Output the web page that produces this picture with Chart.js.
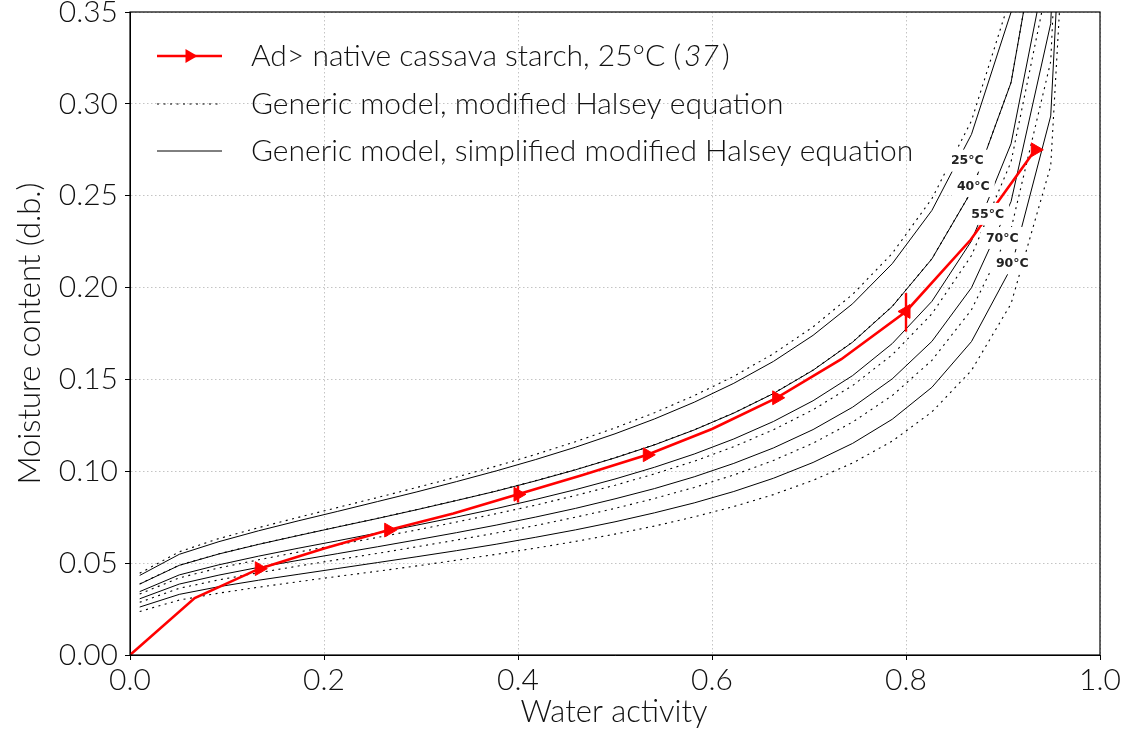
<!DOCTYPE html>
<html>
<head>
<meta charset="utf-8">
<script src="https://cdn.jsdelivr.net/npm/chart.js@4.4.1/dist/chart.umd.min.js"></script>
<style>
html,body{margin:0;padding:0;background:#fff;}
canvas{display:block;}
</style>
</head>
<body>
<canvas id="c" width="1128" height="733"></canvas>
<script>
// ---------------- data ----------------
const waterActivity = [0.01, 0.0508, 0.0917, 0.1325, 0.1733, 0.2142, 0.255, 0.2958, 0.3367, 0.3775, 0.4183, 0.4592, 0.5, 0.5408, 0.5817, 0.6225, 0.6633, 0.7042, 0.745, 0.7858, 0.8267, 0.8675, 0.9083, 0.9492, 0.99];

const halsey25     = [0.0445,0.0562,0.0634,0.0693,0.0749,0.0803,0.0857,0.0912,0.0969,0.1028,0.1092,0.1161,0.1236,0.1319,0.1412,0.1517,0.1640,0.1786,0.1963,0.2186,0.2484,0.2908,0.3591,0.5000,1.216];
const simplified25 = [0.0433,0.0548,0.0617,0.0676,0.0730,0.0782,0.0835,0.0888,0.0944,0.1002,0.1064,0.1131,0.1204,0.1285,0.1376,0.1479,0.1598,0.1740,0.1912,0.2130,0.2420,0.2834,0.3499,0.4872,1.185];
const halsey40     = [0.0387,0.0489,0.0551,0.0603,0.0651,0.0698,0.0744,0.0792,0.0842,0.0893,0.0949,0.1009,0.1074,0.1145,0.1226,0.1318,0.1424,0.1551,0.1704,0.1898,0.2157,0.2525,0.3117,0.4340,1.056];
const simplified40 = [0.0386,0.0488,0.0550,0.0602,0.0650,0.0697,0.0743,0.0791,0.0841,0.0892,0.0948,0.1008,0.1073,0.1144,0.1225,0.1317,0.1423,0.1550,0.1703,0.1897,0.2156,0.2524,0.3116,0.4339,1.055];
const halsey55     = [0.0332,0.0420,0.0474,0.0518,0.0560,0.0600,0.0640,0.0681,0.0724,0.0769,0.0816,0.0868,0.0924,0.0986,0.1055,0.1134,0.1226,0.1335,0.1467,0.1634,0.1857,0.2174,0.2684,0.3738,0.909];
const simplified55 = [0.0345,0.0436,0.0491,0.0538,0.0581,0.0622,0.0664,0.0707,0.0751,0.0797,0.0847,0.0900,0.0958,0.1022,0.1094,0.1176,0.1271,0.1384,0.1521,0.1695,0.1925,0.2254,0.2783,0.3876,0.942];
const halsey70     = [0.0287,0.0363,0.0409,0.0448,0.0484,0.0519,0.0553,0.0589,0.0626,0.0664,0.0705,0.0750,0.0798,0.0852,0.0912,0.0980,0.1059,0.1153,0.1268,0.1412,0.1604,0.1879,0.2319,0.3230,0.785];
const simplified70 = [0.0306,0.0386,0.0435,0.0477,0.0515,0.0552,0.0589,0.0627,0.0666,0.0707,0.0751,0.0798,0.0850,0.0906,0.0970,0.1043,0.1127,0.1227,0.1349,0.1503,0.1707,0.1999,0.2468,0.3437,0.836];
const halsey90     = [0.0237,0.0299,0.0337,0.0369,0.0399,0.0428,0.0456,0.0485,0.0516,0.0548,0.0582,0.0618,0.0658,0.0702,0.0752,0.0808,0.0873,0.0951,0.1045,0.1164,0.1323,0.1549,0.1912,0.2662,0.647];
const simplified90 = [0.0261,0.0330,0.0372,0.0407,0.0439,0.0471,0.0503,0.0535,0.0568,0.0603,0.0641,0.0681,0.0725,0.0774,0.0828,0.0890,0.0962,0.1048,0.1152,0.1283,0.1457,0.1706,0.2107,0.2934,0.713];

const cassavaAw       = [0, 0.0667, 0.1333, 0.2, 0.2667, 0.3333, 0.4, 0.4667, 0.5333, 0.6, 0.6667, 0.7333, 0.8, 0.8667, 0.9333];
const cassavaMoisture = [0, 0.031, 0.047, 0.058, 0.068, 0.077, 0.0875, 0.098, 0.109, 0.123, 0.14, 0.161, 0.187, 0.226, 0.275];
const cassavaMarked   = [false, false, true, false, true, false, true, false, true, false, true, false, true, false, true];
const cassavaMarkerDir = [0, 0, 90, 0, 90, 0, 90, 0, 90, 0, 90, 0, 270, 0, 90];

const errorAw   = [0.4, 0.8];
const errorLow  = [0.083, 0.176];
const errorHigh = [0.092, 0.197];

const temperatureLabels = ['25°C', '40°C', '55°C', '70°C', '90°C'];
const labelAw       = [0.8632, 0.8694, 0.8842, 0.8993, 0.9096];
const labelMoisture = [0.2691, 0.2553, 0.2401, 0.2270, 0.2132];

const legendTexts = ['Ad> native cassava starch, 25°C (', 'Generic model, modified Halsey equation', 'Generic model, simplified modified Halsey equation'];
const xTitle = 'Water activity';
const yTitle = 'Moisture content (d.b.)';

// ---------------- build ----------------
const FONT = 'Lato';
const pts = (xs, ys) => xs.map((v, i) => ({x: v, y: ys[i]}));
const dotted = [2, 4.5];

const modelPairs = [
  [halsey25, simplified25], [halsey40, simplified40], [halsey55, simplified55],
  [halsey70, simplified70], [halsey90, simplified90]
];
const datasets = [];
modelPairs.forEach(([h, s]) => {
  datasets.push({data: pts(waterActivity, h), borderColor: '#000', borderWidth: 1.1, borderDash: dotted, pointRadius: 0, order: 3, tension: 0});
  datasets.push({data: pts(waterActivity, s), borderColor: '#000', borderWidth: 1.0, pointRadius: 0, order: 2, tension: 0});
});
errorAw.forEach((a, i) => {
  datasets.push({data: [{x: a, y: errorLow[i]}, {x: a, y: errorHigh[i]}], borderColor: '#ff0000', borderWidth: 2.4, pointRadius: 0, order: 1});
});
datasets.push({
  data: pts(cassavaAw, cassavaMoisture),
  borderColor: '#ff0000', borderWidth: 2.6, tension: 0, order: 0,
  pointStyle: 'triangle',
  pointRadius: cassavaMarked.map(m => m ? 8 : 0),
  pointRotation: cassavaMarkerDir,
  pointBackgroundColor: '#ff0000', pointBorderColor: '#ff0000', pointBorderWidth: 1
});

const decor = {
  id: 'decor',
  afterDatasetsDraw(chart) {
    const {ctx, chartArea: a, scales: {x, y}} = chart;
    ctx.save();
    // temperature labels (inline, white background)
    ctx.font = 'bold 12.5px "DejaVu Sans"';
    ctx.textAlign = 'center';
    ctx.textBaseline = 'middle';
    temperatureLabels.forEach((t, i) => {
      const px = x.getPixelForValue(labelAw[i]);
      const py = y.getPixelForValue(labelMoisture[i]);
      const w = ctx.measureText(t).width + 10, h = 22;
      ctx.fillStyle = '#fff';
      ctx.fillRect(px - w / 2, py - h / 2, w, h);
      ctx.fillStyle = '#222';
      ctx.fillText(t, px, py + 0.5);
    });
    // frame
    ctx.setLineDash([]);
    ctx.strokeStyle = '#000';
    ctx.lineWidth = 1.2;
    ctx.strokeRect(a.left, a.top, a.right - a.left, a.bottom - a.top);

    // legend
    const lx1 = 157, lx2 = 222, tx = 251;
    const rows = [56, 104, 151];
    ctx.lineWidth = 2.6; ctx.strokeStyle = '#ff0000';
    ctx.beginPath(); ctx.moveTo(lx1, rows[0]); ctx.lineTo(lx2, rows[0]); ctx.stroke();
    const cx = (lx1 + lx2) / 2, r = 8;
    ctx.fillStyle = '#ff0000';
    ctx.beginPath();
    ctx.moveTo(cx + r, rows[0]);
    ctx.lineTo(cx - 0.5 * r, rows[0] + 0.866 * r);
    ctx.lineTo(cx - 0.5 * r, rows[0] - 0.866 * r);
    ctx.closePath(); ctx.fill();
    ctx.lineWidth = 1.1; ctx.strokeStyle = '#000'; ctx.setLineDash(dotted);
    ctx.beginPath(); ctx.moveTo(lx1, rows[1]); ctx.lineTo(lx2, rows[1]); ctx.stroke();
    ctx.setLineDash([]); ctx.lineWidth = 1.0;
    ctx.beginPath(); ctx.moveTo(lx1, rows[2]); ctx.lineTo(lx2, rows[2]); ctx.stroke();

    ctx.fillStyle = '#111';
    ctx.textAlign = 'left';
    ctx.textBaseline = 'middle';
    const LF = '300 30px ' + FONT;
    ctx.font = LF;
    ctx.fillText(legendTexts[0], tx, rows[0]);
    const w0 = ctx.measureText(legendTexts[0]).width;
    ctx.font = 'italic 300 30px ' + FONT;
    ctx.fillText('37', tx + w0 + 3, rows[0]);
    const w1 = ctx.measureText('37').width;
    ctx.font = LF;
    ctx.fillText(')', tx + w0 + w1 + 6, rows[0]);
    ctx.fillText(legendTexts[1], tx, rows[1]);
    ctx.fillText(legendTexts[2], tx, rows[2]);

    // axis titles
    ctx.font = '300 31px ' + FONT;
    ctx.textAlign = 'center';
    ctx.fillText(xTitle, (a.left + a.right) / 2 - 1, 712);
    ctx.translate(30, (a.top + a.bottom) / 2);
    ctx.rotate(-Math.PI / 2);
    ctx.fillText(yTitle, 0, 0);
    ctx.restore();
  }
};

new Chart(document.getElementById('c'), {
  type: 'line',
  data: {datasets},
  options: {
    responsive: false,
    animation: false,
    devicePixelRatio: 1,
    layout: {padding: {left: 0, right: 28, top: 12, bottom: 0}},
    plugins: {legend: {display: false}, tooltip: {enabled: false}},
    scales: {
      x: {
        type: 'linear', min: 0, max: 1,
        ticks: {stepSize: 0.2, maxRotation: 0, padding: 2, color: '#111', font: {family: FONT, size: 30, weight: '300'}, callback: v => v.toFixed(1)},
        grid: {color: '#c4c4c4', lineWidth: 1, tickLength: 5, tickColor: '#000', tickBorderDash: []},
        border: {display: true, color: '#000', dash: [1.5, 2.5]},
        afterFit: s => { s.height = 78; s.paddingLeft = 0; s.paddingRight = 0; }
      },
      y: {
        type: 'linear', min: 0, max: 0.35,
        ticks: {stepSize: 0.05, padding: 7, color: '#111', font: {family: FONT, size: 30, weight: '300'}, callback: v => v.toFixed(2)},
        grid: {color: '#c4c4c4', lineWidth: 1, tickLength: 5, tickColor: '#000', tickBorderDash: []},
        border: {display: true, color: '#000', dash: [1.5, 2.5]},
        afterFit: s => { s.width = 130; s.paddingTop = 0; s.paddingBottom = 0; }
      }
    }
  },
  plugins: [decor]
});
</script>
</body>
</html>
